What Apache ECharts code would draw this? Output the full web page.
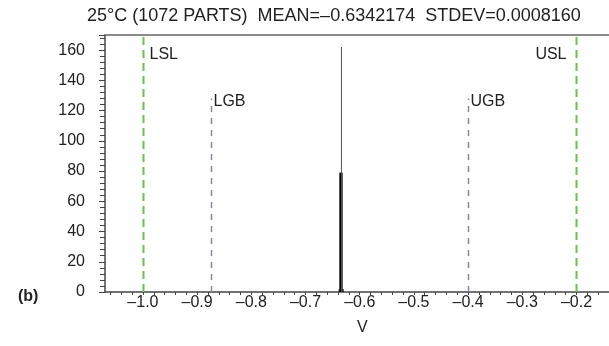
<!DOCTYPE html>
<html><head><meta charset="utf-8">
<script src="https://cdn.jsdelivr.net/npm/echarts@6/dist/echarts.min.js"></script>
<style>html,body{margin:0;padding:0;background:#fff}#c{width:609px;height:346px}</style>
</head><body><div id="c"></div>
<script>
// ---- data ----
var titleText = '25\u00b0C (1072 PARTS)  MEAN=\u20130.6342174  STDEV=0.0008160';
var xTickValues = [-1.0, -0.9, -0.8, -0.7, -0.6, -0.5, -0.4, -0.3, -0.2];
var yTickValues = [0, 20, 40, 60, 80, 100, 120, 140, 160];
// histogram bins (left edge, right edge, count)
var histLeft  = [-0.6388, -0.6376, -0.6346, -0.6315];
var histRight = [-0.6376, -0.6315, -0.6339, -0.6302];
var histCount = [2, 79, 162, 2];
// limit lines
var limitNames  = ['LSL', 'LGB', 'UGB', 'USL'];
var limitValues = [-1.0, -0.875, -0.4, -0.2];
var limitTops   = [170, 128, 128, 170];
var limitLabelY = [157, 126, 126, 157];
var limitKinds  = ['spec', 'guard', 'guard', 'spec'];

var X_MIN = -1.07, X_MAX = -0.14, Y_MIN = 0, Y_MAX = 170;

function fmt(v){ return (v < 0 ? '\u2013' : '') + Math.abs(v).toFixed(1); }
var minorX = [];
for (var i = -53; i <= -7; i++) minorX.push(+(i * 0.02).toFixed(2));

var histData = histLeft.map(function(l, i){ return [l, histRight[i], histCount[i]]; });
var limitData = limitValues.map(function(v, i){ return [v, limitTops[i], limitLabelY[i], i]; });

var chart = echarts.init(document.getElementById('c'), null, {renderer: 'canvas'});
var font = '"Liberation Sans", Arial, sans-serif';
chart.setOption({
  animation: false,
  backgroundColor: '#fff',
  title: {
    text: titleText, left: 82, top: 2,
    textStyle: {fontFamily: font, fontSize: 18, fontWeight: 'normal', color: '#222'}
  },
  grid: {left: 105, right: 0, top: 35, bottom: 54, containLabel: false},
  xAxis: [{
    type: 'value', min: X_MIN, max: X_MAX, position: 'bottom',
    axisLine: {show: true, onZero: false, lineStyle: {color: '#444', width: 1.5}},
    axisTick: {show: true, length: 3, customValues: minorX, lineStyle: {color: '#444'}},
    axisLabel: {show: true, customValues: xTickValues, formatter: fmt, margin: 3,
      fontFamily: font, fontSize: 16, color: '#222'},
    splitLine: {show: false}
  }, {
    type: 'value', min: X_MIN, max: X_MAX, position: 'top',
    axisLine: {show: true, onZero: false, lineStyle: {color: '#666', width: 1.5}},
    axisTick: {show: false}, axisLabel: {show: false}, splitLine: {show: false}
  }],
  yAxis: {
    type: 'value', min: Y_MIN, max: Y_MAX, interval: 20,
    axisLine: {show: true, onZero: false, lineStyle: {color: '#444', width: 1.5}},
    axisTick: {show: true, length: 6, inside: false, lineStyle: {color: '#444'}},
    minorTick: {show: true, splitNumber: 5, length: 5, lineStyle: {color: '#444'}},
    axisLabel: {showMaxLabel: false, margin: 20, fontFamily: font, fontSize: 16, color: '#222'},
    splitLine: {show: false}
  },
  graphic: [
    {type: 'text', left: 18, top: 289, style: {text: '(b)', font: 'bold 16px ' + font, fill: '#222'}},
    {type: 'text', left: 357, top: 320, style: {text: 'V', font: '16px ' + font, fill: '#222'}}
  ],
  series: [{
    type: 'custom', xAxisIndex: 0, yAxisIndex: 0,
    data: histData,
    renderItem: function(params, api){
      var p0 = api.coord([api.value(0), 0]);
      var p1 = api.coord([api.value(1), api.value(2)]);
      var w = Math.max(p1[0] - p0[0], 1);
      var tall = api.value(2) > 100;
      return {type: 'rect', shape: {x: p0[0], y: p1[1], width: w, height: p0[1] - p1[1]},
        style: {fill: tall ? '#555' : '#000'}};
    }
  }, {
    type: 'custom', xAxisIndex: 0, yAxisIndex: 0,
    data: limitData,
    renderItem: function(params, api){
      var idx = api.value(3);
      var b = api.coord([api.value(0), 0]);
      var t = api.coord([api.value(0), api.value(1)]);
      var l = api.coord([api.value(0), api.value(2)]);
      var spec = limitKinds[idx] === 'spec';
      var x = Math.round(b[0]) + 0.5;
      var isRight = limitNames[idx] === 'USL';
      return {type: 'group', children: [
        {type: 'line', shape: {x1: x, y1: b[1], x2: x, y2: t[1]},
          style: {stroke: spec ? '#6cbf4c' : '#8a82ae', lineWidth: spec ? 2 : 1.5,
            lineDash: spec ? [8, 5] : [6, 6]}},
        {type: 'text', x: isRight ? x - 10 : x + (spec ? 6 : 2), y: l[1],
          style: {text: limitNames[idx], font: '16px ' + font, fill: '#222',
            align: isRight ? 'right' : 'left', verticalAlign: 'middle'}}
      ]};
    }
  }]
});
</script></body></html>
